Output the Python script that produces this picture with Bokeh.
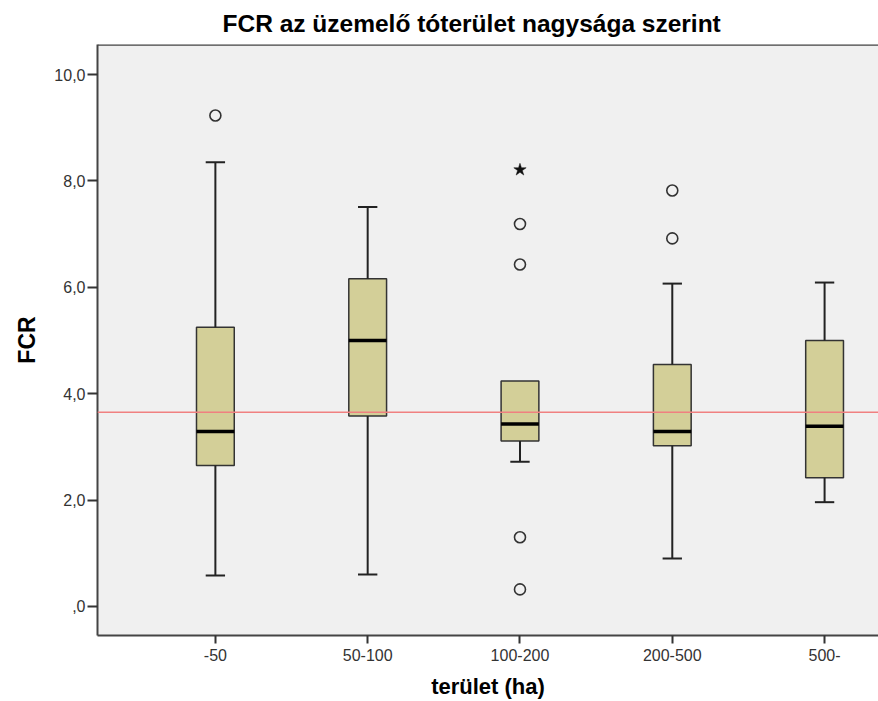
from bokeh.plotting import figure
from bokeh.models import Range1d, FixedTicker, CustomJSTickFormatter, Span
from bokeh.embed import file_html
from bokeh.resources import INLINE

# ---- data ----
categories = ["-50", "50-100", "100-200", "200-500", "500-"]
lower_whisker = [0.58, 0.60, 2.72, 0.90, 1.96]
q1 = [2.65, 3.58, 3.11, 3.02, 2.42]
median = [3.29, 5.00, 3.43, 3.29, 3.39]
q3 = [5.25, 6.16, 4.24, 4.55, 5.00]
upper_whisker = [8.35, 7.51, 4.24, 6.07, 6.09]
outlier_cat = ["-50", "100-200", "100-200", "100-200", "100-200", "200-500", "200-500"]
outlier_val = [9.23, 7.19, 6.43, 1.30, 0.32, 7.82, 6.92]
extreme_cat = ["100-200"]
extreme_val = [8.21]
reference_value = 3.65
y_ticks = [0, 2, 4, 6, 8, 10]

FONT = "Liberation Sans"
pos = {c: i + 1 for i, c in enumerate(categories)}
xs = [pos[c] for c in categories]
BOX_W = 0.248
CAP_W = 0.127
Y_TOP = 10.566

p = figure(width=878, height=701, output_backend="svg", toolbar_location=None,
           x_range=Range1d(0.226, 5.354), y_range=Range1d(-0.547, Y_TOP),
           min_border_left=97, min_border_right=0, min_border_top=42, min_border_bottom=60,
           background_fill_color="#F0F0F0", border_fill_color="white")
p.outline_line_color = None
p.grid.visible = False

p.title.text = "FCR az üzemelő tóterület nagysága szerint"
p.title.text_font = FONT
p.title.text_font_size = "24.5px"
p.title.text_font_style = "bold"
p.title.text_color = "black"
p.title.align = "left"
p.title.offset = 125
p.title.standoff = 15

# boxes
p.vbar(x=xs, width=BOX_W, bottom=q1, top=q3, fill_color="#D3CF98",
       line_color="#333333", line_width=1.5)
# whiskers
up_x = [x for x, a, b in zip(xs, q3, upper_whisker) if b > a]
up_a = [a for a, b in zip(q3, upper_whisker) if b > a]
up_b = [b for a, b in zip(q3, upper_whisker) if b > a]
p.segment(x0=up_x, y0=up_a, x1=up_x, y1=up_b, line_color="#222222", line_width=2)
p.segment(x0=[x - CAP_W / 2 for x in up_x], y0=up_b, x1=[x + CAP_W / 2 for x in up_x], y1=up_b,
          line_color="#222222", line_width=2)
p.segment(x0=xs, y0=q1, x1=xs, y1=lower_whisker, line_color="#222222", line_width=2)
p.segment(x0=[x - CAP_W / 2 for x in xs], y0=lower_whisker, x1=[x + CAP_W / 2 for x in xs],
          y1=lower_whisker, line_color="#222222", line_width=2)
# medians
p.segment(x0=[x - BOX_W / 2 for x in xs], y0=median, x1=[x + BOX_W / 2 for x in xs], y1=median,
          line_color="black", line_width=3.5)
# outliers
p.scatter(x=[pos[c] for c in outlier_cat], y=outlier_val, marker="circle", size=11,
          fill_color=None, line_color="#333333", line_width=1.6)
p.scatter(x=[pos[c] for c in extreme_cat], y=extreme_val, marker="star", size=13,
          fill_color="#111111", line_color="#111111", line_width=0.5)

# reference line
p.add_layout(Span(location=reference_value, dimension="width", line_color="#F08080", line_width=1.5))
# top frame border
p.add_layout(Span(location=Y_TOP, dimension="width", line_color="#444444", line_width=2.5))

# axes
ya = p.yaxis[0]
ya.ticker = FixedTicker(ticks=y_ticks)
ya.formatter = CustomJSTickFormatter(code="return tick == 0 ? ',0' : tick.toFixed(1).replace('.', ',');")
ya.axis_label = "FCR"
ya.axis_label_text_font = FONT
ya.axis_label_text_font_size = "23px"
ya.axis_label_text_font_style = "bold"
ya.axis_label_text_color = "black"
ya.axis_label_standoff = 11
ya.major_label_text_font = FONT
ya.major_label_text_font_size = "16px"
ya.major_label_text_color = "#333333"
ya.major_label_standoff = 2
ya.major_tick_out = 10
ya.major_tick_in = 0
ya.minor_tick_line_color = None
ya.axis_line_color = "#444444"
ya.axis_line_width = 2
ya.major_tick_line_color = "#333333"
ya.major_tick_line_width = 2

xa = p.xaxis[0]
xa.ticker = FixedTicker(ticks=xs)
xa.major_label_overrides = {pos[c]: c for c in categories}
xa.axis_label = "terület (ha)"
xa.axis_label_text_font = FONT
xa.axis_label_text_font_size = "22px"
xa.axis_label_text_font_style = "bold"
xa.axis_label_text_color = "black"
xa.axis_label_standoff = 10
xa.major_label_text_font = FONT
xa.major_label_text_font_size = "16px"
xa.major_label_text_color = "#333333"
xa.major_label_standoff = 5
xa.major_tick_out = 8
xa.major_tick_in = 0
xa.minor_tick_line_color = None
xa.axis_line_color = "#444444"
xa.axis_line_width = 2
xa.major_tick_line_color = "#333333"
xa.major_tick_line_width = 2

open("out.html", "w").write(file_html(p, INLINE))
